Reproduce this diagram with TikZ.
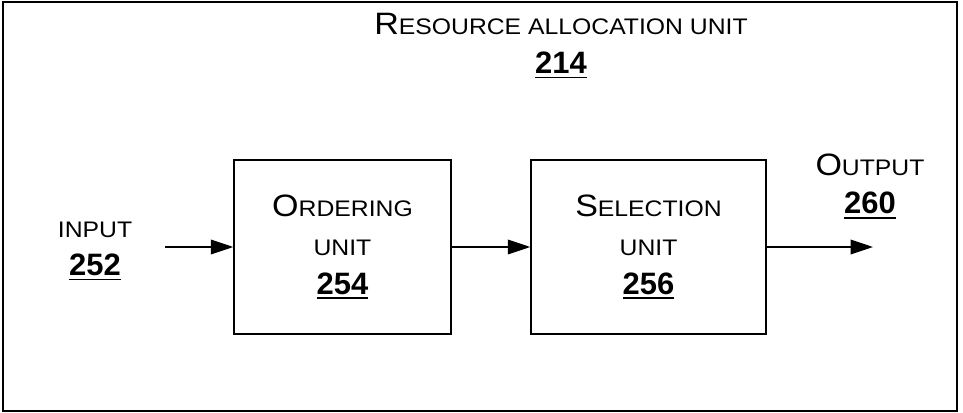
\documentclass[tikz,border=0pt]{standalone}
\usepackage{fontspec}
\setmainfont{Liberation Sans}
\newfontfamily\capfont[FakeStretch = 1.1]{Liberation Sans}
\usetikzlibrary{arrows.meta}

% Small caps made by hand: large first letter, smaller rest
\newcommand{\scword}[2]{{\capfont\fontsize{22}{27.5}\selectfont #1\fontsize{16}{27.5}\selectfont #2}}
% Bold, underlined reference number
\newcommand{\refnum}[1]{\setbox0\hbox{\bfseries\fontsize{22}{27.5}\selectfont #1}\rlap{\rule[-3.4pt]{\wd0}{1.1pt}}\box0}

\tikzset{
	unit/.style = {draw, line width = 1pt, minimum height = 4.35cm, align = center, inner sep = 0pt},
	label/.style = {align = center, inner sep = 0pt}
}

\begin{document}
\begin{tikzpicture}[x = 0.025cm, y = -0.025cm, > = {Triangle[length=16pt, width=10.5pt]}, font = \fontsize{22}{27.5}\selectfont]

	\useasboundingbox (0, 0) rectangle (963, 413);

	% Outer frame

	\draw [line width = 1pt] (3, 2) rectangle (957, 411);

	% Title

	\node [label] (title) at (561, 46) {\scword{R}{ESOURCE ALLOCATION UNIT}\\\refnum{214}};

	% Units

	\node [unit, minimum width = 5.425cm] (ordering) at (342.5, 247) {\scword{O}{RDERING}\\\scword{}{UNIT}\\\refnum{254}};
	\node [unit, minimum width = 5.875cm] (selection) at (648.5, 247) {\scword{S}{ELECTION}\\\scword{}{UNIT}\\\refnum{256}};

	% Input and output

	\node [label] (input) at (95, 251) {\scword{}{INPUT}\\\refnum{252}};
	\node [label] (output) at (870, 186) {\scword{O}{UTPUT}\\\refnum{260}};

	\coordinate (inputtail) at (165, 247);
	\coordinate (outputtip) at (873, 247);

	% Arrows

	\draw [->, line width = 1pt] (inputtail) -- (ordering);
	\draw [->, line width = 1pt] (ordering) -- (selection);
	\draw [->, line width = 1pt] (selection) -- (outputtip);

\end{tikzpicture}
\end{document}
